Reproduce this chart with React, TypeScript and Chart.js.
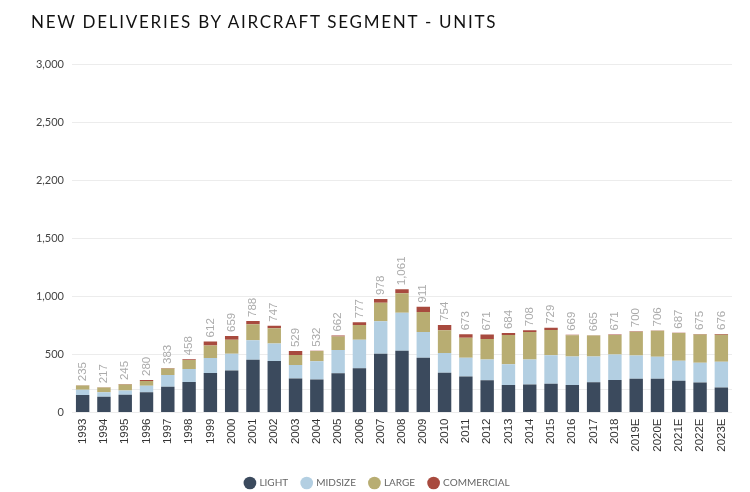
import React, { useEffect, useRef } from "react";
import { Chart, registerables } from "chart.js";

Chart.register(...registerables);

const categories = [
  "1993", "1994", "1995", "1996", "1997", "1998", "1999", "2000", "2001", "2002",
  "2003", "2004", "2005", "2006", "2007", "2008", "2009", "2010", "2011", "2012",
  "2013", "2014", "2015", "2016", "2017", "2018", "2019E", "2020E", "2021E", "2022E", "2023E",
];

const lightValues = [
  150, 135, 152, 175, 222, 262, 340, 362, 455, 443,
  293, 285, 337, 380, 505, 532, 472, 342, 310, 277,
  237, 240, 248, 237, 260, 280, 290, 290, 273, 258, 216,
];
const midsizeValues = [
  45, 40, 38, 55, 100, 112, 130, 143, 167, 152,
  115, 157, 200, 247, 280, 326, 222, 170, 162, 180,
  178, 216, 245, 245, 222, 220, 200, 190, 172, 170, 220,
];
const largeValues = [
  38, 40, 52, 42, 56, 78, 107, 122, 138, 131,
  88, 88, 118, 127, 160, 168, 172, 195, 172, 176,
  253, 237, 217, 182, 180, 168, 205, 223, 239, 244, 233,
];
const commercialValues = [
  2, 2, 3, 8, 5, 6, 35, 32, 28, 21,
  33, 2, 7, 23, 33, 35, 45, 47, 29, 38,
  16, 15, 19, 5, 3, 3, 5, 3, 3, 3, 7,
];
const totalLabels = [
  235, 217, 245, 280, 383, 458, 612, 659, 788, 747,
  529, 532, 662, 777, 978, 1061, 911, 754, 673, 671,
  684, 708, 729, 669, 665, 671, 700, 706, 687, 675, 676,
];

const yTickValues = [0, 200, 500, 1000, 1500, 2000, 2500, 3000];
const yTickLabels = ["0", "", "500", "1,000", "1,500", "2,200", "2,500", "3,000"];

const seriesNames = ["LIGHT", "MIDSIZE", "LARGE", "COMMERCIAL"];
const seriesColors = ["#3b4a5d", "#b3cfe2", "#b8ad72", "#a84a3e"];

const totalsPlugin = {
  id: "totalsLabels",
  afterDatasetsDraw(chart: any) {
    const ctx = chart.ctx;
    const metas = [0, 1, 2, 3].map((i) => chart.getDatasetMeta(i));
    ctx.save();
    ctx.fillStyle = "#ababab";
    ctx.font = "11.5px 'Liberation Sans', Arial, sans-serif";
    ctx.textAlign = "left";
    ctx.textBaseline = "middle";
    totalLabels.forEach((t, i) => {
      let top = Infinity;
      let x = 0;
      metas.forEach((m) => {
        const el = m.data[i];
        if (el) {
          top = Math.min(top, el.y);
          x = el.x;
        }
      });
      ctx.save();
      ctx.translate(x, top - 4);
      ctx.rotate(-Math.PI / 2);
      ctx.fillText(t.toLocaleString("en-US"), 0, 0);
      ctx.restore();
    });
    ctx.restore();
  },
};

export default function App() {
  const ref = useRef<HTMLCanvasElement | null>(null);

  useEffect(() => {
    if (!ref.current) return;
    const values = [lightValues, midsizeValues, largeValues, commercialValues];
    const chart = new Chart(ref.current, {
      type: "bar",
      data: {
        labels: categories,
        datasets: values.map((v, i) => ({
          label: seriesNames[i],
          data: v,
          backgroundColor: seriesColors[i],
          borderWidth: 0,
          barPercentage: 0.63,
          categoryPercentage: 1,
        })),
      },
      options: {
        animation: false,
        responsive: false,
        layout: { padding: { top: 64, right: 18, left: 23, bottom: 0 } },
        scales: {
          x: {
            stacked: true,
            grid: { display: false, drawTicks: false },
            border: { display: false },
            ticks: {
              minRotation: 90,
              maxRotation: 90,
              padding: 6,
              color: "#333",
              font: { family: "'Liberation Sans', Arial, sans-serif", size: 11.5 },
              autoSkip: false,
            },
            afterFit: (s: any) => {
              s.height = 51.5;
            },
          },
          y: {
            stacked: true,
            min: 0,
            max: 3000,
            afterBuildTicks: (s: any) => {
              s.ticks = yTickValues.map((v) => ({ value: v }));
            },
            afterFit: (s: any) => {
              s.width = 49;
            },
            grid: { color: "#ececec", drawTicks: false, lineWidth: 1 },
            border: { display: false },
            ticks: {
              padding: 8,
              color: "#444",
              font: { family: "Lato, 'Open Sans', sans-serif", size: 11 },
              callback: (v: any) => {
                const idx = yTickValues.indexOf(Number(v));
                return idx >= 0 ? yTickLabels[idx] : "";
              },
            },
          },
        },
        plugins: {
          title: { display: false },
          tooltip: { enabled: false },
          legend: {
            position: "bottom",
            labels: {
              usePointStyle: true,
              pointStyle: "circle",
              boxWidth: 9,
              boxHeight: 9,
              padding: 14,
              color: "#666",
              font: { family: "Lato, 'Open Sans', sans-serif", size: 10 },
            },
          },
        },
      },
      plugins: [totalsPlugin],
    });
    return () => chart.destroy();
  }, []);

  return (
    <div style={{ position: "absolute", left: 0, top: 0, width: 750, height: 492, overflow: "hidden", background: "#fff" }}>
      <div
        style={{
          position: "absolute",
          left: 31,
          top: 11,
          fontFamily: "Lato, 'Open Sans', sans-serif",
          fontSize: 17,
          letterSpacing: "1.75px",
          color: "#111",
          whiteSpace: "nowrap",
        }}
      >
        NEW DELIVERIES BY AIRCRAFT SEGMENT - UNITS
      </div>
      <canvas ref={ref} width={750} height={498} style={{ display: "block" }} />
    </div>
  );
}
